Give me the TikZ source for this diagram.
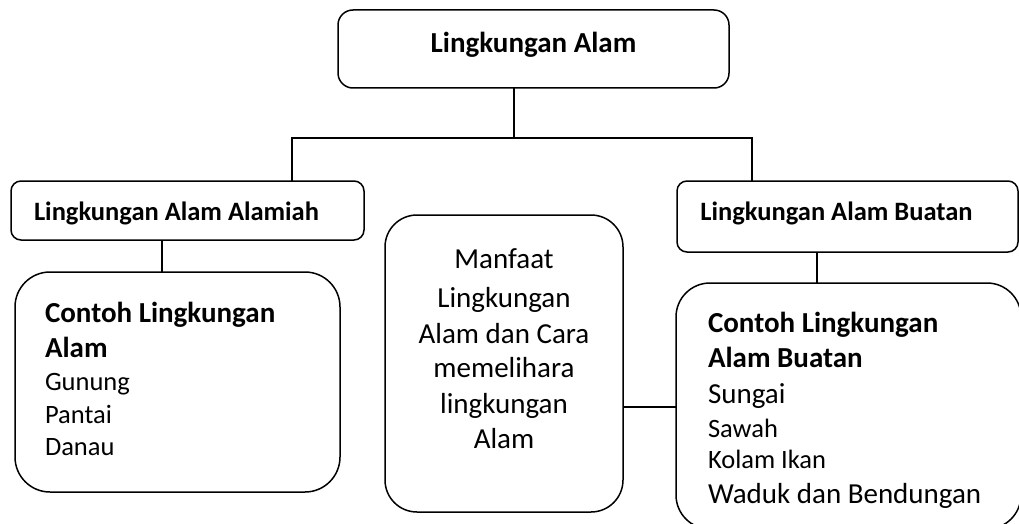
\documentclass[tikz,border=0pt]{standalone}
\usepackage{fontspec}
\setmainfont{Carlito}
\begin{document}
\begin{tikzpicture}[x=1pt,y=-1pt,
  box/.style={draw=black, line width=1.5pt, fill=none, inner sep=0pt, outer sep=0pt},
  conn/.style={draw=black, line width=1.5pt},
  fB/.style={font=\bfseries\fontsize{29}{35}\selectfont},
  fb/.style={font=\bfseries\fontsize{26.5}{32}\selectfont},
  fR/.style={font=\fontsize{29}{35}\selectfont},
  fr/.style={font=\fontsize{26.5}{32}\selectfont},
  txt/.style={inner sep=0pt, outer sep=0pt, text=black}]
\useasboundingbox (0,0) rectangle (1019,524);
\clip (0,0) rectangle (1019,524);
\fill[white] (0,0) rectangle (1019,524);

% boxes
\node[box, rounded corners=15pt, minimum width=391pt, minimum height=78pt] (top) at (533.5,49) {};
\node[box, rounded corners=10pt, minimum width=353pt, minimum height=59pt] (lbl) at (187.5,210.5) {};
\node[box, rounded corners=10pt, minimum width=341pt, minimum height=71pt] (rbl) at (847.5,216.5) {};
\node[box, rounded corners=35pt, minimum width=325pt, minimum height=220pt] (lc) at (177.5,382) {};
\node[box, rounded corners=32pt, minimum width=238pt, minimum height=297pt] (mid) at (504,363.5) {};
\node[box, rounded corners=34pt, minimum width=345pt, minimum height=246pt] (rc) at (848.5,406) {};

% junction coordinates
\coordinate (j0) at (514,138);
\coordinate (jl) at (292,138);
\coordinate (jr) at (752,138);
\coordinate (cl) at (162,250);
\coordinate (cr) at (817,260);
\coordinate (cm) at (650,407);

% connectors
\draw[conn] (top.south -| j0) -- (j0);
\draw[conn] (lbl.north -| jl) -- (jl) -- (jr) -- (rbl.north -| jr);
\draw[conn] (lbl.south -| cl) -- (lc.north -| cl);
\draw[conn] (rbl.south -| cr) -- (rc.north -| cr);
\draw[conn] (mid.east |- cm) -- (rc.west |- cm);

% texts
\node[txt, fB, anchor=base] (ttop) at (533.5,53) {Lingkungan Alam};
\node[txt, fb, anchor=base] (tlbl) at (176.5,220) {Lingkungan Alam Alamiah};
\node[txt, fb, anchor=base] (trbl) at (836.5,220) {Lingkungan Alam Buatan};

\node[txt, fB, anchor=base west] (l1) at (45,322) {Contoh Lingkungan};
\node[txt, fB, anchor=base west] (l2) at (45,357) {Alam};
\node[txt, fr, anchor=base west] (l3) at (45,390) {Gunung};
\node[txt, fr, anchor=base west] (l4) at (45,423) {Pantai};
\node[txt, fr, anchor=base west] (l5) at (45,455) {Danau};

\node[txt, fR, anchor=base] (m1) at (504,268) {Manfaat};
\node[txt, fR, anchor=base] (m2) at (504,307) {Lingkungan};
\node[txt, fR, anchor=base] (m3) at (504,343) {Alam dan Cara};
\node[txt, fR, anchor=base] (m4) at (504,377) {memelihara};
\node[txt, fR, anchor=base] (m5) at (504,413) {lingkungan};
\node[txt, fR, anchor=base] (m6) at (504,448) {Alam};

\node[txt, fB, anchor=base west] (r1) at (708,332) {Contoh Lingkungan};
\node[txt, fB, anchor=base west] (r2) at (708,367) {Alam Buatan};
\node[txt, fR, anchor=base west] (r3) at (708,403) {Sungai};
\node[txt, fr, anchor=base west] (r4) at (708,437) {Sawah};
\node[txt, fr, anchor=base west] (r5) at (708,468) {Kolam Ikan};
\node[txt, fR, anchor=base west] (r6) at (708,503) {Waduk dan Bendungan};
\end{tikzpicture}
\end{document}
